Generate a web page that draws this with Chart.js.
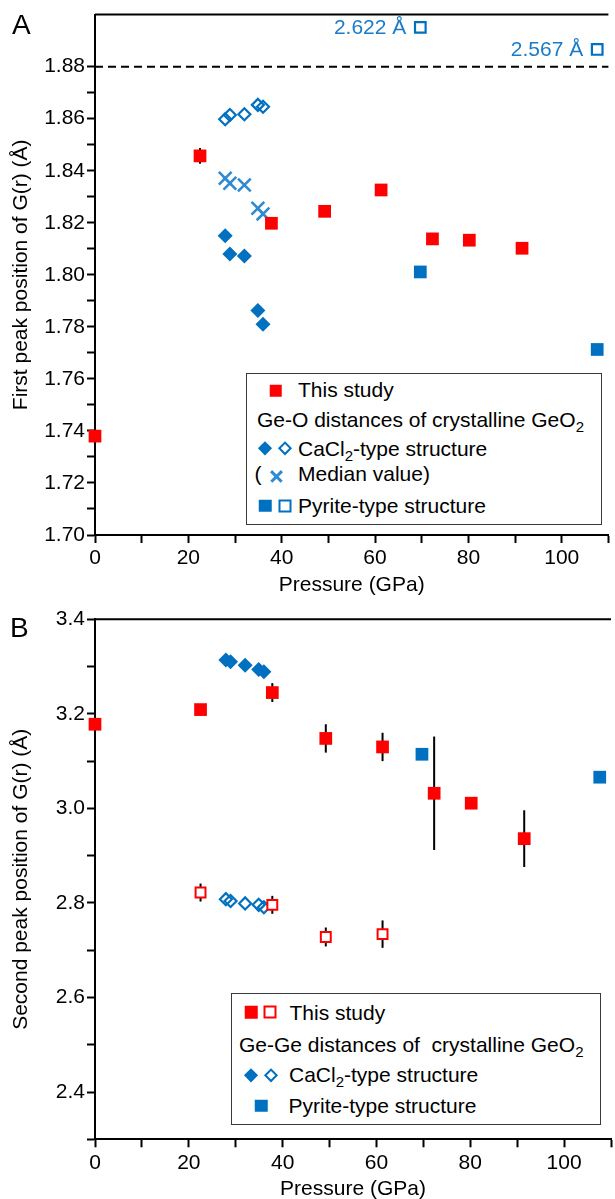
<!DOCTYPE html>
<html>
<head>
<meta charset="utf-8">
<title>First and second peak positions of G(r)</title>
<script src="https://cdn.jsdelivr.net/npm/chart.js@4.4.1/dist/chart.umd.min.js"></script>
<style>
  html, body { margin: 0; padding: 0; background: #fff; }
  body { position: relative; width: 615px; height: 1199px; overflow: hidden; font-family: "Liberation Sans", Arial, sans-serif; color: #000; }
  canvas { position: absolute; left: 0; }
  #chartA { top: 0; }
  #chartB { top: 600px; }
  .letter { position: absolute; font-size: 28px; line-height: 28px; }
  .box { position: absolute; box-sizing: border-box; border: 1.7px solid #3a3a3a; background: #fff; }
  .txt { position: absolute; font-size: 21px; line-height: 24px; white-space: pre; }
  .txt sub { font-size: 15px; line-height: 0; vertical-align: -5px; }
  .mk { position: absolute; box-sizing: border-box; transform: translate(-50%, -50%); }
  .sq { width: 12.5px; height: 12.5px; }
  .osq { width: 13px; height: 13px; border: 2.5px solid; background: #fff; }
  .dia { width: 9.5px; height: 9.5px; transform: translate(-50%, -50%) rotate(45deg); }
  .odia { width: 9.5px; height: 9.5px; border: 2.2px solid; transform: translate(-50%, -50%) rotate(45deg); }
  .xm { width: 0; height: 0; }
  .xm i { position: absolute; left: -7.5px; top: -1.3px; width: 15px; height: 2.6px; background: #2f8ad2; }
  .xm i:first-child { transform: rotate(45deg); }
  .xm i:last-child { transform: rotate(-45deg); }
</style>
</head>
<body>
<canvas id="chartA" width="620" height="600"></canvas>
<canvas id="chartB" width="620" height="600"></canvas>

<div class="letter" style="left:12px;top:11px">A</div>
<div class="letter" style="left:10px;top:614px">B</div>

<!-- legend A -->
<div class="box" style="left:246px;top:373px;width:356px;height:152px"></div>
<div class="mk sq" style="left:275.5px;top:390.5px;background:#ff0000"></div>
<div class="txt" style="left:298px;top:378px">This study</div>
<div class="txt" style="left:257px;top:407.7px">Ge-O distances of crystalline GeO<sub>2</sub></div>
<div class="mk dia" style="left:265.3px;top:448.3px;background:#0070c0"></div>
<div class="mk odia" style="left:285.3px;top:448.3px;border-color:#0070c0"></div>
<div class="txt" style="left:298px;top:436.8px">CaCl<sub>2</sub>-type structure</div>
<div class="txt" style="left:254.5px;top:461.7px">(</div>
<div class="mk xm" style="left:276.3px;top:476.7px"><i></i><i></i></div>
<div class="txt" style="left:298px;top:461.7px">Median value)</div>
<div class="mk sq" style="left:265px;top:505.8px;background:#0070c0"></div>
<div class="mk osq" style="left:284.7px;top:505.8px;border-color:#0070c0"></div>
<div class="txt" style="left:298px;top:493.5px">Pyrite-type structure</div>

<!-- legend B -->
<div class="box" style="left:231px;top:993px;width:370px;height:132px"></div>
<div class="mk sq" style="left:251px;top:1012.2px;background:#ff0000"></div>
<div class="mk osq" style="left:270.3px;top:1012.2px;border-color:#ff0000"></div>
<div class="txt" style="left:289.5px;top:1000.5px">This study</div>
<div class="txt" style="left:239px;top:1032.7px">Ge-Ge distances of  crystalline GeO<sub>2</sub></div>
<div class="mk dia" style="left:250.7px;top:1075px;background:#0070c0"></div>
<div class="mk odia" style="left:270.7px;top:1075px;border-color:#0070c0"></div>
<div class="txt" style="left:289px;top:1062.5px">CaCl<sub>2</sub>-type structure</div>
<div class="mk sq" style="left:261.3px;top:1105.8px;background:#0070c0"></div>
<div class="txt" style="left:288.5px;top:1093.5px">Pyrite-type structure</div>

<script>
const FONT = '"Liberation Sans", Arial, sans-serif';
Chart.defaults.font.family = FONT;
Chart.defaults.color = '#000';

const RED = '#ff0000';
const BLUE = '#0070c0';
const BLUE_X = '#2f8ad2';
const BLUE_TXT = '#1b7bc9';

// pressures (GPa) of this study
const pressure = [0, 22.5, 37.8, 49.2, 61.3, 72.3, 80.2, 91.5];
const pressureOpen = [22.5, 37.8, 49.2, 61.3];

// crystalline GeO2 references
const cacl2Pressure = [27.9, 28.9, 32.0, 34.9, 36.0];
const pyritePressure = [69.7, 107.6];

// A: first peak (Ge-O)
const firstPeak = [1.738, 1.8457, 1.8198, 1.8244, 1.8326, 1.8138, 1.8133, 1.8102];
const firstPeakErr = [0, 0.003, 0, 0, 0, 0, 0, 0];
const cacl2GeOShort = [1.8150, 1.8080, 1.8072, 1.7863, 1.7810];
const cacl2GeOLong = [1.8598, 1.8614, 1.8617, 1.8653, 1.8646];
const cacl2GeOMedian = [1.8371, 1.8352, 1.8345, 1.8256, 1.8234];
const pyriteGeO = [1.8011, 1.7713];
const pyriteGeOLong = [2.622, 2.567];          // off scale, value written as text
const pyriteGeOLongShown = [1.8951, 1.8866];   // where the marker sits above the break
const breakAt = 1.88;

// B: second peak (Ge-Ge)
const secondPeak = [3.178, 3.209, 3.245, 3.148, 3.130, 3.032, 3.011, 2.936];
const secondPeakErr = [0, 0.005, 0.02, 0.03, 0.03, 0.12, 0, 0.06];
const secondPeakOpen = [2.822, 2.796, 2.728, 2.734];
const secondPeakOpenErr = [0.019, 0.019, 0.02, 0.029];
const cacl2GeGeA = [3.314, 3.310, 3.303, 3.294, 3.289];
const cacl2GeGeB = [2.808, 2.804, 2.799, 2.796, 2.791];
const pyriteGeGe = [3.1145, 3.066];

// ticks
const xTicks = [0, 10, 20, 30, 40, 50, 60, 70, 80, 90, 100, 110];
const xLabels = ['0', '20', '40', '60', '80', '100'];
const yTicksA = [1.70, 1.71, 1.72, 1.73, 1.74, 1.75, 1.76, 1.77, 1.78, 1.79, 1.80,
                 1.81, 1.82, 1.83, 1.84, 1.85, 1.86, 1.87, 1.88];
const yLabelsA = ['1.70', '1.72', '1.74', '1.76', '1.78', '1.80', '1.82', '1.84', '1.86', '1.88'];
const yTicksB = [2.3, 2.4, 2.5, 2.6, 2.7, 2.8, 2.9, 3.0, 3.1, 3.2, 3.3, 3.4];
const yLabelsB = ['2.4', '2.6', '2.8', '3.0', '3.2', '3.4'];

const pts = (xs, ys) => xs.map((x, i) => ({ x: x, y: ys[i] }));

// vertical error bars, drawn under the markers
const errorBars = {
  id: 'errorBars',
  beforeDatasetsDraw(chart) {
    const { ctx, scales: { x, y } } = chart;
    ctx.save();
    ctx.strokeStyle = '#000';
    ctx.lineWidth = 2;
    chart.data.datasets.forEach(ds => {
      if (!ds.errors) return;
      ds.data.forEach((p, i) => {
        const e = ds.errors[i];
        if (!e) return;
        const px = x.getPixelForValue(p.x);
        ctx.beginPath();
        ctx.moveTo(px, y.getPixelForValue(p.y - e));
        ctx.lineTo(px, y.getPixelForValue(p.y + e));
        ctx.stroke();
      });
    });
    ctx.restore();
  }
};

const topBorder = {
  id: 'topBorder',
  afterDraw(chart) {
    const { ctx, chartArea: a } = chart;
    ctx.save();
    ctx.strokeStyle = '#000';
    ctx.lineWidth = 2;
    ctx.beginPath();
    ctx.moveTo(a.left, a.top);
    ctx.lineTo(a.right, a.top);
    ctx.stroke();
    ctx.restore();
  }
};

// dashed break line + off-scale values in panel A
const breakLine = {
  id: 'breakLine',
  beforeDatasetsDraw(chart) {
    const { ctx, chartArea: a, scales: { x, y } } = chart;
    const py = y.getPixelForValue(breakAt);
    ctx.save();
    ctx.setLineDash([8, 5]);
    ctx.lineWidth = 2;
    ctx.strokeStyle = '#000';
    ctx.beginPath();
    ctx.moveTo(a.left, py);
    ctx.lineTo(a.right, py);
    ctx.stroke();
    ctx.setLineDash([]);
    ctx.font = '21px ' + FONT;
    ctx.fillStyle = BLUE_TXT;
    ctx.textAlign = 'right';
    ctx.textBaseline = 'middle';
    pyriteGeOLong.forEach((v, i) => {
      ctx.fillText(v.toFixed(3) + ' \u00c5',
        x.getPixelForValue(pyritePressure[i]) - 14,
        y.getPixelForValue(pyriteGeOLongShown[i]) + 1);
    });
    ctx.restore();
  }
};

function xScale(height, titlePad) {
  return {
    type: 'linear', min: 0, max: 110,
    afterFit: s => { s.height = height; },
    afterBuildTicks: s => { s.ticks = xTicks.map(v => ({ value: v })); },
    border: { color: '#000', width: 2 },
    grid: { drawOnChartArea: false, tickLength: 8, tickWidth: 2, tickColor: '#000' },
    ticks: {
      autoSkip: false, maxRotation: 0, padding: 3, color: '#000', font: { size: 21 },
      callback: v => (xLabels.includes(String(v)) ? String(v) : '')
    },
    title: { display: true, text: 'Pressure (GPa)', color: '#000',
             font: { size: 21, lineHeight: 1 }, padding: { top: 0, bottom: titlePad } }
  };
}

function yScale(min, max, ticks, labels, digits, title) {
  return {
    type: 'linear', min: min, max: max,
    afterFit: s => { s.width = 95; },
    afterBuildTicks: s => { s.ticks = ticks.map(v => ({ value: v })); },
    border: { color: '#000', width: 2 },
    grid: { drawOnChartArea: false, tickLength: 8, tickWidth: 2, tickColor: '#000' },
    ticks: {
      autoSkip: false, padding: 2, color: '#000', font: { size: 21 },
      callback: v => (labels.includes(v.toFixed(digits)) ? v.toFixed(digits) : '')
    },
    title: { display: true, text: title, color: '#000',
             font: { size: 21, lineHeight: 1 }, padding: { top: 11, bottom: 0 } }
  };
}

const common = {
  responsive: false,
  animation: false,
  events: [],
  plugins: { legend: { display: false }, tooltip: { enabled: false } }
};

new Chart(document.getElementById('chartA'), {
  type: 'scatter',
  data: {
    datasets: [
      { label: 'This study', data: pts(pressure, firstPeak), errors: firstPeakErr, clip: false,
        pointStyle: 'rect', pointRadius: 9, borderWidth: 0, backgroundColor: RED },
      { label: 'Pyrite', data: pts(pyritePressure, pyriteGeO), clip: false,
        pointStyle: 'rect', pointRadius: 9, borderWidth: 0, backgroundColor: BLUE },
      { label: 'Pyrite (long)', data: pts(pyritePressure, pyriteGeOLongShown), clip: false,
        pointStyle: 'rect', pointRadius: 7.5, borderWidth: 2.2, borderColor: BLUE, backgroundColor: '#fff' },
      { label: 'Median', data: pts(cacl2Pressure, cacl2GeOMedian),
        pointStyle: 'crossRot', pointRadius: 9, borderWidth: 2.6, borderColor: BLUE_X },
      { label: 'CaCl2 short', data: pts(cacl2Pressure, cacl2GeOShort),
        pointStyle: 'rectRot', pointRadius: 7.5, borderWidth: 0, backgroundColor: BLUE },
      { label: 'CaCl2 long', data: pts(cacl2Pressure, cacl2GeOLong),
        pointStyle: 'rectRot', pointRadius: 6, borderWidth: 2.2, borderColor: BLUE, backgroundColor: 'rgba(0,0,0,0)' }
    ]
  },
  options: Object.assign({}, common, {
    layout: { padding: { top: 14.6, right: 2.5, left: 0, bottom: 0 } },
    scales: {
      x: xScale(65, 4.5),
      y: yScale(1.70, 1.90, yTicksA, yLabelsA, 2, 'First peak position of G(r) (\u00c5)')
    }
  }),
  plugins: [errorBars, breakLine, topBorder]
});

new Chart(document.getElementById('chartB'), {
  type: 'scatter',
  data: {
    datasets: [
      { label: 'This study', data: pts(pressure, secondPeak), errors: secondPeakErr, clip: false,
        pointStyle: 'rect', pointRadius: 9, borderWidth: 0, backgroundColor: RED },
      { label: 'This study (open)', data: pts(pressureOpen, secondPeakOpen), errors: secondPeakOpenErr,
        pointStyle: 'rect', pointRadius: 7, borderWidth: 2, borderColor: RED, backgroundColor: '#fff' },
      { label: 'Pyrite', data: pts(pyritePressure, pyriteGeGe), clip: false,
        pointStyle: 'rect', pointRadius: 9, borderWidth: 0, backgroundColor: BLUE },
      { label: 'CaCl2 a', data: pts(cacl2Pressure, cacl2GeGeA),
        pointStyle: 'rectRot', pointRadius: 7.5, borderWidth: 0, backgroundColor: BLUE },
      { label: 'CaCl2 b', data: pts(cacl2Pressure, cacl2GeGeB),
        pointStyle: 'rectRot', pointRadius: 6, borderWidth: 2.2, borderColor: BLUE, backgroundColor: 'rgba(0,0,0,0)' }
    ]
  },
  options: Object.assign({}, common, {
    layout: { padding: { top: 19.3, right: 2.5, left: 0, bottom: 0 } },
    scales: {
      x: xScale(60.7, 0.5),
      y: yScale(2.3, 3.4, yTicksB, yLabelsB, 1, 'Second peak position of G(r) (\u00c5)')
    }
  }),
  plugins: [errorBars, topBorder]
});
</script>
</body>
</html>
